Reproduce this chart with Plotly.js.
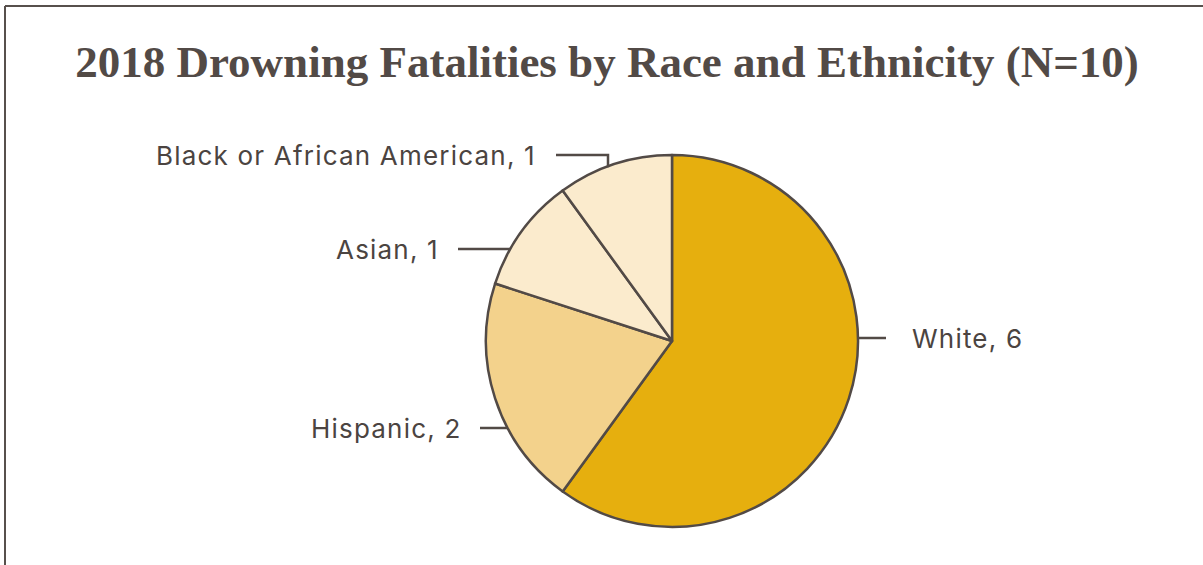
<!DOCTYPE html>
<html>
<head>
<meta charset="utf-8">
<script src="https://cdn.plot.ly/plotly-3.0.1.min.js"></script>
<style>
html,body{margin:0;padding:0;background:#fff;}
#chart{width:1203px;height:565px;}
text{letter-spacing:1.2px;}
.gtitle{letter-spacing:0;}
</style>
</head>
<body>
<div id="chart"></div>
<script>
const categories = ["White", "Hispanic", "Asian", "Black or African American"];
const counts = [6, 2, 1, 1];
const sliceColors = ["#E6AF0E", "#F3D28C", "#FBEBCD", "#FBEBCD"];
const titleText = "2018 Drowning Fatalities by Race and Ethnicity (N=10)";

const W = 1203, H = 565;
const cx = 672, cy = 341, R = 186;
const px = x => x / W;
const py = y => 1 - y / H;

// label placement (pixels): side, label y, text edge x, line outer x
const labelLayout = {
  "White": {side: "right", y: 338, textX: 910, lineX: 886},
  "Hispanic": {side: "left", y: 428, textX: 464, lineX: 480},
  "Asian": {side: "left", y: 249, textX: 441, lineX: 458},
  "Black or African American": {side: "left", y: 155, textX: 538, lineX: 556, elbowX: 608}
};

const lineColor = "#524A46";
const textColor = "#4B4441";
const annotations = [];
const shapes = [];

categories.forEach((c, i) => {
  const L = labelLayout[c];
  annotations.push({
    xref: "paper", yref: "paper",
    x: px(L.textX), y: py(L.y),
    xanchor: L.side === "right" ? "left" : "right", yanchor: "middle",
    text: c + ", " + counts[i], showarrow: false,
    font: {family: "Inter, 'DejaVu Sans', sans-serif", size: 26, color: textColor}
  });
  if (L.elbowX !== undefined) {
    const ey = cy - Math.sqrt(R * R - (L.elbowX - cx) * (L.elbowX - cx));
    shapes.push({type: "path", xref: "paper", yref: "paper",
      path: "M" + px(L.lineX) + "," + py(L.y) + " L" + px(L.elbowX) + "," + py(L.y) + " L" + px(L.elbowX) + "," + py(ey + 1),
      line: {color: lineColor, width: 2.5}});
  } else {
    const dx = Math.sqrt(R * R - (L.y - cy) * (L.y - cy));
    const ex = L.side === "right" ? cx + dx : cx - dx;
    shapes.push({type: "line", xref: "paper", yref: "paper",
      x0: px(L.lineX), y0: py(L.y), x1: px(ex), y1: py(L.y),
      line: {color: lineColor, width: 2.5}});
  }
});

// frame
shapes.push({type: "line", xref: "paper", yref: "paper", x0: px(5), y0: py(6), x1: px(1210), y1: py(6), line: {color: "#57504C", width: 2}});
shapes.push({type: "line", xref: "paper", yref: "paper", x0: px(5), y0: py(6), x1: px(5), y1: py(570), line: {color: "#57504C", width: 2}});

const data = [{
  type: "pie",
  labels: categories,
  values: counts,
  sort: false,
  direction: "clockwise",
  rotation: 0,
  textinfo: "none",
  hoverinfo: "label+value",
  marker: {colors: sliceColors, line: {color: lineColor, width: 2.5}},
  domain: {x: [px(cx - R), px(cx + R)], y: [py(cy + R), py(cy - R)]},
  showlegend: false
}];

const layout = {
  width: W, height: H,
  margin: {l: 0, r: 0, t: 0, b: 0},
  paper_bgcolor: "#ffffff",
  title: {
    text: "<b>" + titleText + "</b>",
    font: {family: "'Liberation Serif', 'Times New Roman', serif", size: 45, color: "#524A46"},
    x: px(607), xanchor: "center", y: py(61), yanchor: "middle"
  },
  annotations: annotations,
  shapes: shapes,
  showlegend: false
};

Plotly.newPlot("chart", data, layout, {displayModeBar: false, staticPlot: true});
</script>
</body>
</html>
